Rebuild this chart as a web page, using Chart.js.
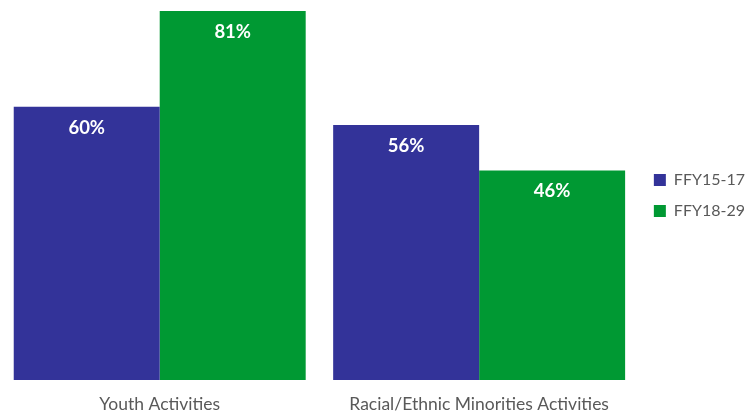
<!DOCTYPE html>
<html>
<head>
<meta charset="utf-8">
<script src="https://cdn.jsdelivr.net/npm/chart.js@4.4.0/dist/chart.umd.min.js"></script>
<style>
  html, body { margin: 0; padding: 0; background: #fff; }
  #wrap { width: 749px; height: 415px; }
</style>
</head>
<body>
<div id="wrap"><canvas id="grafico"></canvas></div>
<script>
// Datos del grafico
const categorias = ['Youth Activities', 'Racial/Ethnic Minorities Activities'];
const serie1 = [60, 56];
const serie2 = [81, 46];
const nombresSeries = ['FFY15-17', 'FFY18-29'];

// etiquetas blancas dentro de las barras
const etiquetasBarras = {
    id: 'etiquetasBarras',
    afterDatasetsDraw(chart) {
        const ctx = chart.ctx;
        ctx.save();
        ctx.fillStyle = '#ffffff';
        ctx.font = 'bold 18.5px Lato';
        ctx.textAlign = 'center';
        ctx.textBaseline = 'middle';
        chart.data.datasets.forEach((ds, i) => {
            chart.getDatasetMeta(i).data.forEach((barra, j) => {
                ctx.fillText(ds.data[j] + '%', barra.x, barra.y + 21);
            });
        });
        ctx.restore();
    }
};

let grafico = new Chart(document.getElementById('grafico').getContext('2d'), {
    type: 'bar',
    data: {
        labels: categorias,
        datasets: [{
            label: nombresSeries[0],
            data: serie1,
            backgroundColor: '#333399',
            borderWidth: 0
        }, {
            label: nombresSeries[1],
            data: serie2,
            backgroundColor: '#009933',
            borderWidth: 0
        }]
    },
    options: {
        responsive: true,
        maintainAspectRatio: false,
        animation: false,
        layout: { padding: { top: 11, right: -6, left: 0, bottom: -14 } },
        categoryPercentage: 0.914,
        barPercentage: 1.0,
        plugins: {
            legend: {
                position: 'right',
                fullSize: false,
                labels: {
                    boxWidth: 12,
                    boxHeight: 12,
                    padding: 15,
                    color: '#595959',
                    font: { family: 'Lato', size: 16 }
                }
            },
            tooltip: { enabled: false }
        },
        scales: {
            x: {
                grid: { display: false, drawTicks: false },
                border: { display: false },
                ticks: {
                    color: '#595959',
                    padding: 14,
                    font: { family: 'Lato', size: 17.5 }
                }
            },
            y: {
                display: false,
                min: 0,
                max: 81
            }
        }
    },
    plugins: [etiquetasBarras]
});
</script>
</body>
</html>
